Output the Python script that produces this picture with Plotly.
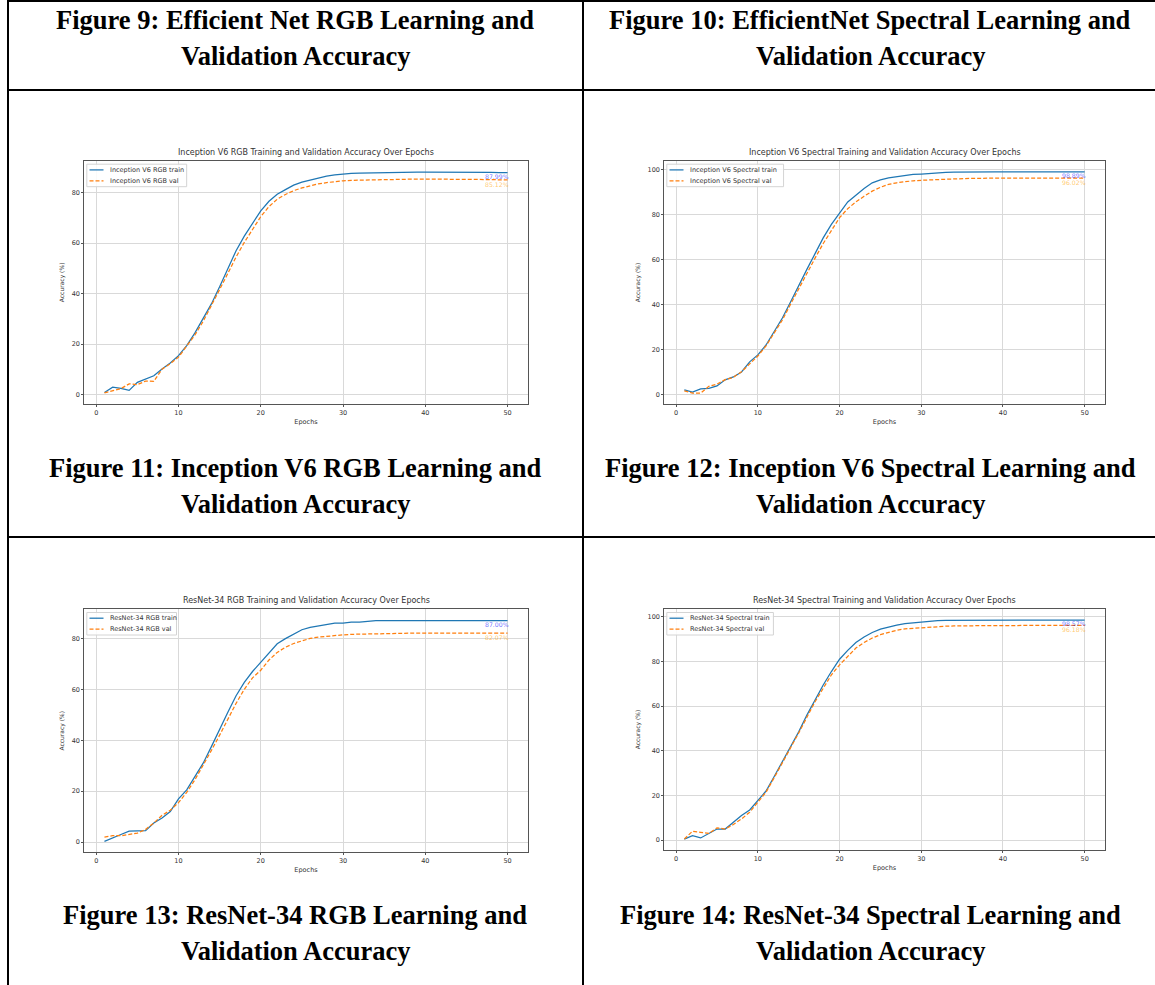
import plotly.graph_objects as go

# ---- data -------------------------------------------------------------
epochs = list(range(1, 51))

inc_rgb_train = [0.8, 2.9, 2.4, 1.6, 4.8, 6.1, 7.4, 10.1, 12.5, 15.4,
                 19.4, 24.4, 30.0, 35.9, 42.7, 49.8, 57.0, 62.8, 68.0, 72.8,
                 76.6, 79.4, 81.2, 83.0, 84.2, 85.0, 85.9, 86.6, 87.1, 87.5,
                 87.7, 87.8, 87.9, 88.0, 88.0, 88.1, 88.1, 88.1, 88.2, 88.2,
                 88.2, 88.1, 88.2, 88.2, 88.3, 88.2, 88.2, 88.1, 88.0, 87.99]
inc_rgb_val = [0.6, 1.5, 2.3, 4.2, 3.9, 5.3, 5.2, 10.0, 12.2, 14.8,
               19.0, 23.6, 29.0, 35.0, 41.6, 48.0, 54.5, 60.3, 65.6, 70.5,
               74.5, 77.4, 79.3, 80.8, 81.9, 82.8, 83.5, 84.0, 84.4, 84.7,
               84.9, 85.0, 85.1, 85.2, 85.2, 85.3, 85.3, 85.3, 85.4, 85.4,
               85.4, 85.4, 85.4, 85.3, 85.3, 85.2, 85.2, 85.2, 85.1, 85.12]

inc_spec_train = [1.9, 1.0, 2.4, 2.6, 3.7, 6.4, 7.7, 9.9, 14.4, 17.5,
                  21.9, 27.7, 33.9, 41.0, 48.5, 55.5, 62.5, 69.5, 75.5, 80.5,
                  85.5, 88.5, 91.5, 94.0, 95.3, 96.2, 96.8, 97.2, 97.7, 97.9,
                  98.2, 98.4, 98.6, 98.7, 98.8, 98.9, 98.9, 98.9, 98.9, 98.9,
                  98.9, 98.9, 98.9, 98.9, 98.9, 98.9, 98.9, 98.9, 98.9, 98.89]
inc_spec_val = [1.5, 0.5, 0.5, 3.5, 4.5, 6.5, 7.5, 10.0, 13.5, 17.0,
                21.5, 27.0, 33.0, 40.0, 47.0, 54.0, 60.5, 67.0, 73.0, 78.5,
                82.5, 85.5, 88.0, 90.3, 92.0, 93.3, 94.0, 94.5, 94.9, 95.1,
                95.3, 95.5, 95.7, 95.8, 95.9, 96.0, 96.0, 96.1, 96.1, 96.1,
                96.1, 96.1, 96.1, 96.0, 96.0, 96.0, 96.0, 96.0, 96.0, 96.02]

res_rgb_train = [0.3, 1.5, 3.0, 4.3, 4.5, 4.5, 7.5, 9.5, 12.0, 17.0,
                 20.5, 25.5, 31.0, 37.5, 44.5, 51.0, 57.5, 62.7, 67.0, 70.7,
                 74.5, 77.9, 79.9, 81.5, 83.4, 84.3, 84.9, 85.4, 86.0, 86.0,
                 86.4, 86.4, 86.7, 87.0, 87.0, 87.0, 87.0, 87.1, 87.1, 87.1,
                 87.2, 87.1, 87.2, 87.2, 87.2, 87.1, 87.1, 87.1, 87.0, 87.00]
res_rgb_val = [2.0, 2.5, 2.5, 3.0, 3.5, 5.0, 7.5, 10.5, 12.5, 15.5,
               19.5, 24.5, 30.0, 36.0, 42.0, 48.5, 54.5, 60.0, 64.5, 67.5,
               71.5, 74.5, 76.5, 78.0, 79.0, 80.0, 80.5, 80.9, 81.2, 81.4,
               81.6, 81.7, 81.8, 81.9, 81.9, 82.0, 82.0, 82.0, 82.1, 82.1,
               82.1, 82.1, 82.1, 82.1, 82.1, 82.1, 82.1, 82.1, 82.1, 82.07]

res_spec_train = [0.5, 2.0, 1.0, 3.0, 5.0, 5.0, 8.0, 11.0, 13.5, 17.5,
                  22.0, 28.5, 35.0, 41.5, 48.5, 56.0, 63.0, 69.5, 75.5, 81.0,
                  85.0, 88.5, 91.0, 93.0, 94.5, 95.5, 96.3, 97.0, 97.4, 97.8,
                  98.1, 98.3, 98.4, 98.4, 98.5, 98.5, 98.5, 98.5, 98.6, 98.6,
                  98.6, 98.6, 98.6, 98.6, 98.6, 98.6, 98.6, 98.6, 98.6, 98.57]
res_spec_val = [0.5, 4.0, 3.5, 3.0, 5.5, 5.0, 7.0, 9.5, 12.5, 17.0,
                21.5, 28.0, 34.5, 41.0, 48.0, 55.0, 62.0, 68.0, 74.0, 78.5,
                82.5, 86.0, 88.5, 90.5, 92.0, 93.0, 94.0, 94.6, 94.9, 95.2,
                95.5, 95.7, 95.8, 95.9, 96.0, 96.0, 96.0, 96.1, 96.1, 96.1,
                96.1, 96.2, 96.2, 96.2, 96.2, 96.2, 96.2, 96.2, 96.2, 96.18]

model_names = ["Inception V6 RGB", "Inception V6 Spectral",
               "ResNet-34 RGB", "ResNet-34 Spectral"]
train_series = [inc_rgb_train, inc_spec_train, res_rgb_train, res_spec_train]
val_series = [inc_rgb_val, inc_spec_val, res_rgb_val, res_spec_val]

x_ticks = [0, 10, 20, 30, 40, 50]
y_ticks_rgb = [0, 20, 40, 60, 80]
y_ticks_spec = [0, 20, 40, 60, 80, 100]
tick_sets = [y_ticks_rgb, y_ticks_spec, y_ticks_rgb, y_ticks_spec]

captions = [
    ("Figure 9: Efficient Net RGB Learning and", "Validation Accuracy"),
    ("Figure 10: EfficientNet Spectral Learning and", "Validation Accuracy"),
    ("Figure 11: Inception V6 RGB Learning and", "Validation Accuracy"),
    ("Figure 12: Inception V6 Spectral Learning and", "Validation Accuracy"),
    ("Figure 13: ResNet-34 RGB Learning and", "Validation Accuracy"),
    ("Figure 14: ResNet-34 Spectral Learning and", "Validation Accuracy"),
]

# ---- page geometry (pixels) --------------------------------------------
W, H = 1155, 985


def fx(px):
    return px / W


def fy(py):
    return 1 - py / H


# plot boxes: left, right, top, bottom
boxes = [(84.3, 527.7, 160.7, 404.0),
         (664.3, 1104.7, 160.7, 404.2),
         (84.3, 527.7, 609.0, 852.4),
         (664.3, 1104.7, 609.0, 850.0)]

TRAIN_COLOR = "#1f77b4"
VAL_COLOR = "#ff7f0e"
VAL_DASH = "4px,2px"
TXT = "#333333"
SPINE = "#555555"
GRID = "#d9d9d9"
MPL_FONT = "DejaVu Sans"
SMALL = 6.5

fig = go.Figure()
layout = dict(width=W, height=H, margin=dict(l=0, r=0, t=0, b=0),
              paper_bgcolor="white", plot_bgcolor="white",
              showlegend=False)
annotations = []
shapes = []

x_lo = epochs[0] - 0.05 * (epochs[-1] - epochs[0])
x_hi = epochs[-1] + 0.05 * (epochs[-1] - epochs[0])

for i, (name, tr, va, yt, box) in enumerate(
        zip(model_names, train_series, val_series, tick_sets, boxes)):
    k = "" if i == 0 else str(i + 1)
    l, r, t, b = box

    fig.add_trace(go.Scatter(
        x=epochs, y=tr, mode="lines", name=f"{name} train",
        line=dict(color=TRAIN_COLOR, width=1.25),
        xaxis="x" + k, yaxis="y" + k))
    fig.add_trace(go.Scatter(
        x=epochs, y=va, mode="lines", name=f"{name} val",
        line=dict(color=VAL_COLOR, width=1.25, dash=VAL_DASH),
        xaxis="x" + k, yaxis="y" + k))

    lo = min(min(tr), min(va))
    hi = max(max(tr), max(va))
    span = hi - lo
    axis_common = dict(showline=True, mirror=True, linecolor=SPINE,
                       linewidth=1, showgrid=True, gridcolor=GRID,
                       gridwidth=1, zeroline=False, ticks="outside",
                       ticklen=2, tickcolor=SPINE,
                       tickfont=dict(family=MPL_FONT, size=SMALL, color=TXT))
    layout["xaxis" + k] = dict(
        axis_common, domain=[fx(l), fx(r)], range=[x_lo, x_hi],
        tickvals=x_ticks, anchor="y" + k,
        title=dict(text="Epochs", standoff=3,
                   font=dict(family=MPL_FONT, size=SMALL, color=TXT)))
    layout["yaxis" + k] = dict(
        axis_common, domain=[fy(b), fy(t)],
        range=[lo - 0.05 * span, hi + 0.05 * span],
        tickvals=yt, anchor="x" + k,
        title=dict(text="Accuracy (%)", standoff=6,
                   font=dict(family=MPL_FONT, size=6, color=TXT)))

    # chart title
    annotations.append(dict(
        x=fx((l + r) / 2), y=fy(t - 2), xref="paper", yref="paper",
        xanchor="center", yanchor="bottom", showarrow=False,
        text=f"{name} Training and Validation Accuracy Over Epochs",
        font=dict(family=MPL_FONT, size=8, color=TXT)))

    # legend box in the upper-left corner of the axes
    labels = [f"{name} train", f"{name} val"]
    text_w = max(len(s) for s in labels) * 3.38
    bx0, by0 = l + 2.5, t + 3.5
    bx1, by1 = bx0 + 21.5 + text_w + 4, by0 + 22.5
    shapes.append(dict(type="rect", xref="paper", yref="paper",
                       x0=fx(bx0), x1=fx(bx1), y0=fy(by0), y1=fy(by1),
                       fillcolor="rgba(255,255,255,0.85)",
                       line=dict(color="#d4d4d4", width=1)))
    for j, (lab, col, dash) in enumerate(
            ((labels[0], TRAIN_COLOR, "solid"),
             (labels[1], VAL_COLOR, VAL_DASH))):
        yy = by0 + 5.7 + 11 * j
        shapes.append(dict(type="line", xref="paper", yref="paper",
                           x0=fx(bx0 + 2.7), x1=fx(bx0 + 16.7),
                           y0=fy(yy), y1=fy(yy),
                           line=dict(color=col, width=1.25, dash=dash)))
        annotations.append(dict(
            x=fx(bx0 + 21.5), y=fy(yy), xref="paper", yref="paper",
            xanchor="left", yanchor="middle", showarrow=False, text=lab,
            font=dict(family=MPL_FONT, size=SMALL, color=TXT)))

    # final-epoch values
    annotations.append(dict(
        x=epochs[-1], y=tr[-1], xref="x" + k, yref="y" + k,
        xanchor="right", yanchor="top", xshift=3, yshift=2, showarrow=False,
        text=f"{tr[-1]:.2f}%",
        font=dict(family=MPL_FONT, size=6.2, color="rgba(0,0,255,0.6)")))
    annotations.append(dict(
        x=epochs[-1], y=va[-1], xref="x" + k, yref="y" + k,
        xanchor="right", yanchor="top", xshift=3, yshift=1, showarrow=False,
        text=f"{va[-1]:.2f}%",
        font=dict(family=MPL_FONT, size=6.2, color="rgba(255,165,0,0.6)")))

# ---- table frame ------------------------------------------------------
LINE = dict(color="black", width=2)
COL_L, COL_MID, COL_R = 8, 583, 1160
ROW_LINES = [1, 90, 537]
for yy in ROW_LINES:
    shapes.append(dict(type="line", xref="paper", yref="paper",
                       x0=fx(COL_L - 1), x1=fx(COL_R), y0=fy(yy), y1=fy(yy),
                       line=LINE))
for xx in (COL_L, COL_MID):
    shapes.append(dict(type="line", xref="paper", yref="paper",
                       x0=fx(xx), x1=fx(xx), y0=fy(0), y1=fy(H + 5),
                       line=LINE))

# ---- captions -----------------------------------------------------------
col_centers = [(COL_L + COL_MID) / 2, (COL_MID + 1157) / 2]
caption_rows = [(20, 56), (468, 504), (915, 951)]
for j, (line1, line2) in enumerate(captions):
    cx = col_centers[j % 2]
    y1, y2 = caption_rows[j // 2]
    for txt, yy in ((line1, y1), (line2, y2)):
        annotations.append(dict(
            x=fx(cx), y=fy(yy), xref="paper", yref="paper",
            xanchor="center", yanchor="middle", showarrow=False,
            text=f"<b>{txt}</b>",
            font=dict(family="Liberation Serif", size=26.5, color="black")))

layout["annotations"] = annotations
layout["shapes"] = shapes
fig.update_layout(**layout)

fig.write_html("out.html")
